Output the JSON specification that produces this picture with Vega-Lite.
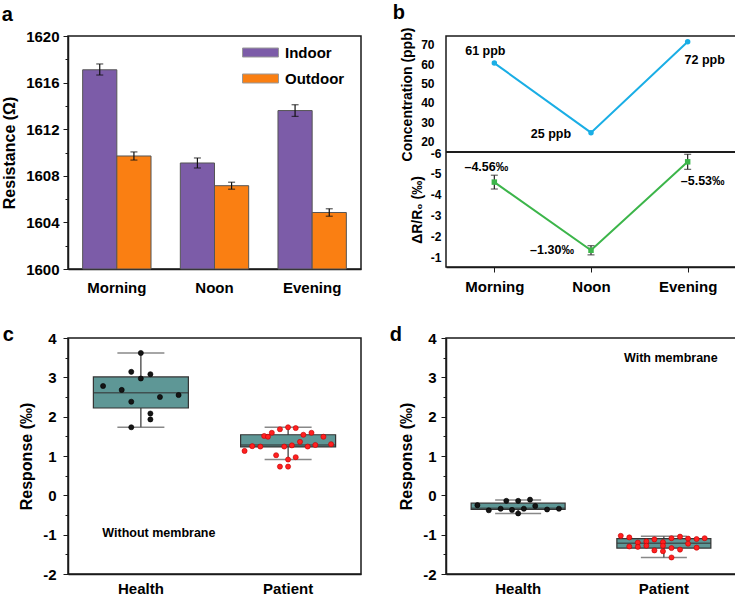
{
  "$schema": "https://vega.github.io/schema/vega-lite/v6.json",
  "background": "white",
  "padding": {"left": 0, "top": 2, "right": 0, "bottom": 0},
  "columns": 2,
  "align": "each",
  "spacing": {"row": 28, "column": 26},
  "config": {
    "font": "Liberation Sans",
    "view": {"stroke": "#1a1a1a", "strokeWidth": 1.5},
    "axis": {
      "labelFont": "Liberation Sans", "labelFontWeight": "bold", "labelFontSize": 15, "labelColor": "#000",
      "titleFont": "Liberation Sans", "titleFontWeight": "bold", "titleFontSize": 16, "titleColor": "#000",
      "domainColor": "#1a1a1a", "domainWidth": 1.5, "tickColor": "#1a1a1a", "grid": false, "labelOverlap": false
    },
    "title": {"font": "Liberation Sans", "fontSize": 20, "fontWeight": "bold", "anchor": "start", "frame": "bounds", "color": "#000"},
    "text": {"font": "Liberation Sans", "fontWeight": "bold", "fontSize": 12.5, "color": "#000"}
  },
  "concat": [
    {
      "title": {"text": "a", "dx": 0, "offset": 4},
      "width": 293, "height": 233,
      "data": {"values": [
        {"time": "Morning", "loc": "Indoor", "value": 1617.1, "lo": 1616.65, "hi": 1617.6},
        {"time": "Morning", "loc": "Outdoor", "value": 1609.7, "lo": 1609.35, "hi": 1610.05},
        {"time": "Noon", "loc": "Indoor", "value": 1609.1, "lo": 1608.67, "hi": 1609.53},
        {"time": "Noon", "loc": "Outdoor", "value": 1607.15, "lo": 1606.85, "hi": 1607.45},
        {"time": "Evening", "loc": "Indoor", "value": 1613.6, "lo": 1613.1, "hi": 1614.1},
        {"time": "Evening", "loc": "Outdoor", "value": 1604.85, "lo": 1604.53, "hi": 1605.17}
      ]},
      "resolve": {"axis": {"y": "independent"}},
      "layer": [
        {
          "mark": {"type": "bar", "stroke": "#555", "strokeWidth": 1},
          "encoding": {
            "x": {"field": "time", "type": "nominal", "sort": ["Morning", "Noon", "Evening"], "scale": {"paddingInner": 0.3, "paddingOuter": 0.15}, "axis": {"title": null, "labelAngle": 0, "ticks": false, "tickSize": 0, "labelPadding": 11, "labelFontSize": 15}},
            "xOffset": {"field": "loc", "type": "nominal", "sort": ["Indoor", "Outdoor"]},
            "y": {"field": "value", "type": "quantitative", "title": "Resistance (Ω)", "scale": {"domain": [1600, 1620], "zero": false, "nice": false}, "axis": {"orient": "left", "values": [1600, 1604, 1608, 1612, 1616, 1620], "format": "d", "tickSize": 5, "labelPadding": 4, "titlePadding": 8, "labelOverlap": false}},
            "y2": {"datum": 1600},
            "color": {"field": "loc", "type": "nominal", "scale": {"domain": ["Indoor", "Outdoor"], "range": ["#7C5CA8", "#FA7F12"]},
              "legend": {"orient": "none", "legendX": 182, "legendY": 6, "title": null, "symbolType": "M-1.8,-0.45H1.8V0.45H-1.8Z", "symbolSize": 400, "symbolStrokeColor": "#999", "symbolStrokeWidth": 1, "labelFont": "Liberation Sans", "labelFontWeight": "bold", "labelFontSize": 15, "labelColor": "#000", "labelOffset": 14, "rowPadding": 7}}
          }
        },
        {
          "mark": {"type": "rule", "color": "#111", "strokeWidth": 1.2},
          "encoding": {
            "x": {"field": "time", "type": "nominal", "sort": ["Morning", "Noon", "Evening"]},
            "xOffset": {"field": "loc", "type": "nominal", "sort": ["Indoor", "Outdoor"]},
            "y": {"field": "lo", "type": "quantitative", "axis": null},
            "y2": {"field": "hi"}
          }
        },
        {
          "mark": {"type": "tick", "color": "#111", "size": 7, "thickness": 1.2},
          "encoding": {
            "x": {"field": "time", "type": "nominal", "sort": ["Morning", "Noon", "Evening"]},
            "xOffset": {"field": "loc", "type": "nominal", "sort": ["Indoor", "Outdoor"]},
            "y": {"field": "lo", "type": "quantitative", "axis": null}
          }
        },
        {
          "mark": {"type": "tick", "color": "#111", "size": 7, "thickness": 1.2},
          "encoding": {
            "x": {"field": "time", "type": "nominal", "sort": ["Morning", "Noon", "Evening"]},
            "xOffset": {"field": "loc", "type": "nominal", "sort": ["Indoor", "Outdoor"]},
            "y": {"field": "hi", "type": "quantitative", "axis": {"orient": "left", "values": [1602, 1606, 1610, 1614, 1618], "labels": false, "domain": false, "tickSize": 3, "title": null, "grid": false}}
          }
        }
      ]
    },
    {
      "title": {"text": "b", "dx": -8, "offset": 4},
      "width": 290, "height": 231,
      "data": {"values": [
        {"time": "Morning", "conc": 61, "clabel": "61 ppb", "dr": -4.56, "drlo": -4.89, "drhi": -4.23, "dlabel": "–4.56‰"},
        {"time": "Noon", "conc": 25, "clabel": "25 ppb", "dr": -1.30, "drlo": -1.52, "drhi": -1.08, "dlabel": "–1.30‰"},
        {"time": "Evening", "conc": 72, "clabel": "72 ppb", "dr": -5.53, "drlo": -5.89, "drhi": -5.17, "dlabel": "–5.53‰"}
      ]},
      "resolve": {"scale": {"y": "independent"}, "axis": {"y": "independent"}},
      "layer": [
        {
          "encoding": {
            "y": {"field": "conc", "type": "quantitative", "title": "Concentration (ppb)", "scale": {"domain": [15, 75], "range": [116, 0], "nice": false, "zero": false},
              "axis": {"orient": "left", "values": [20, 30, 40, 50, 60, 70], "ticks": false, "domain": false, "labelPadding": 12, "labelFontSize": 12, "labelOffset": -1, "titleFontSize": 14, "titlePadding": 6, "labelOverlap": false}}
          },
          "layer": [
            {
              "mark": {"type": "line", "color": "#1AAEE5", "strokeWidth": 2},
              "encoding": {"x": {"field": "time", "type": "ordinal", "sort": ["Morning", "Noon", "Evening"], "scale": {"type": "point", "padding": 0.5}, "axis": {"title": null, "labelAngle": 0, "tickSize": 5, "labelPadding": 7, "labelFontSize": 15}}}
            },
            {
              "mark": {"type": "circle", "color": "#1AAEE5", "size": 30, "opacity": 1},
              "encoding": {"x": {"field": "time", "type": "ordinal", "sort": ["Morning", "Noon", "Evening"]}}
            },
            {
              "transform": [{"filter": "datum.time === 'Morning'"}],
              "mark": {"type": "text", "dx": -9, "dy": -12},
              "encoding": {"x": {"field": "time", "type": "ordinal", "sort": ["Morning", "Noon", "Evening"]}, "text": {"field": "clabel"}}
            },
            {
              "transform": [{"filter": "datum.time === 'Noon'"}],
              "mark": {"type": "text", "dx": -40, "dy": 1},
              "encoding": {"x": {"field": "time", "type": "ordinal", "sort": ["Morning", "Noon", "Evening"]}, "text": {"field": "clabel"}}
            },
            {
              "transform": [{"filter": "datum.time === 'Evening'"}],
              "mark": {"type": "text", "dx": 17, "dy": 18},
              "encoding": {"x": {"field": "time", "type": "ordinal", "sort": ["Morning", "Noon", "Evening"]}, "text": {"field": "clabel"}}
            }
          ]
        },
        {
          "encoding": {
            "y": {"field": "dr", "type": "quantitative", "title": "ΔR/R₀ (‰)", "scale": {"domain": [-6, -0.5], "range": [116, 231], "nice": false, "zero": false},
              "axis": {"orient": "left", "values": [-6, -5, -4, -3, -2, -1], "labelExpr": "replace(datum.label,'\u2212','-')", "ticks": false, "domain": false, "labelPadding": 5, "labelFontSize": 12, "labelOffset": 1, "titleFontSize": 14, "titlePadding": 6, "labelOverlap": false}}
          },
          "layer": [
            {
              "mark": {"type": "rule", "color": "#1a1a1a", "strokeWidth": 1.5},
              "encoding": {"y": {"datum": -6}}
            },
            {
              "mark": {"type": "line", "color": "#3CB54A", "strokeWidth": 2},
              "encoding": {"x": {"field": "time", "type": "ordinal", "sort": ["Morning", "Noon", "Evening"]}}
            },
            {
              "mark": {"type": "rule", "color": "#222", "strokeWidth": 1.2},
              "encoding": {"x": {"field": "time", "type": "ordinal", "sort": ["Morning", "Noon", "Evening"]}, "y": {"field": "drlo", "type": "quantitative", "title": "ΔR/R₀ (‰)"}, "y2": {"field": "drhi"}}
            },
            {
              "mark": {"type": "tick", "color": "#222", "size": 7, "thickness": 1.2},
              "encoding": {"x": {"field": "time", "type": "ordinal", "sort": ["Morning", "Noon", "Evening"]}, "y": {"field": "drlo", "type": "quantitative", "title": "ΔR/R₀ (‰)"}}
            },
            {
              "mark": {"type": "tick", "color": "#222", "size": 7, "thickness": 1.2},
              "encoding": {"x": {"field": "time", "type": "ordinal", "sort": ["Morning", "Noon", "Evening"]}, "y": {"field": "drhi", "type": "quantitative", "title": "ΔR/R₀ (‰)"}}
            },
            {
              "mark": {"type": "square", "color": "#3CB54A", "size": 30, "opacity": 1},
              "encoding": {"x": {"field": "time", "type": "ordinal", "sort": ["Morning", "Noon", "Evening"]}}
            },
            {
              "transform": [{"filter": "datum.time === 'Morning'"}],
              "mark": {"type": "text", "dx": -8, "dy": -15},
              "encoding": {"x": {"field": "time", "type": "ordinal", "sort": ["Morning", "Noon", "Evening"]}, "text": {"field": "dlabel"}}
            },
            {
              "transform": [{"filter": "datum.time === 'Noon'"}],
              "mark": {"type": "text", "dx": -39, "dy": 0},
              "encoding": {"x": {"field": "time", "type": "ordinal", "sort": ["Morning", "Noon", "Evening"]}, "text": {"field": "dlabel"}}
            },
            {
              "transform": [{"filter": "datum.time === 'Evening'"}],
              "mark": {"type": "text", "dx": 15, "dy": 19},
              "encoding": {"x": {"field": "time", "type": "ordinal", "sort": ["Morning", "Noon", "Evening"]}, "text": {"field": "dlabel"}}
            }
          ]
        }
      ]
    },
    {
      "title": {"text": "c", "dx": -16, "dy": 18},
      "width": 293, "height": 236,
      "resolve": {"axis": {"y": "independent"}},
      "layer": [
        {
          "data": {"values": [
            {"group": "Health", "q1": 2.22, "q3": 3.01, "median": 2.61, "lo": 1.73, "hi": 3.62},
            {"group": "Patient", "q1": 1.23, "q3": 1.54, "median": 1.28, "lo": 0.91, "hi": 1.73}
          ]},
          "layer": [
            {
              "mark": {"type": "rule", "color": "#333", "strokeWidth": 1.2},
              "encoding": {
                "x": {"field": "group", "type": "nominal", "sort": ["Health", "Patient"], "scale": {"type": "band", "paddingInner": 0.35, "paddingOuter": 0.17}, "axis": {"title": null, "labelAngle": 0, "ticks": false, "tickSize": 0, "labelPadding": 7, "labelFontSize": 15}},
                "y": {"field": "lo", "type": "quantitative", "title": "Response (‰)", "scale": {"domain": [-2, 4], "nice": false}, "axis": {"orient": "left", "tickCount": 6, "labelExpr": "replace(datum.label,'\u2212','-')", "tickSize": 5, "labelPadding": 7, "titlePadding": 8, "labelOverlap": false}},
                "y2": {"field": "hi"}
              }
            },
            {
              "mark": {"type": "bar", "fill": "#5E9796", "stroke": "#333", "strokeWidth": 1.2, "width": 95},
              "encoding": {
                "x": {"field": "group", "type": "nominal", "sort": ["Health", "Patient"]},
                "y": {"field": "q1", "type": "quantitative", "title": "Response (‰)"},
                "y2": {"field": "q3"}
              }
            },
            {
              "mark": {"type": "tick", "color": "#333", "size": 95, "thickness": 1.5},
              "encoding": {"x": {"field": "group", "type": "nominal", "sort": ["Health", "Patient"]}, "y": {"field": "median", "type": "quantitative", "title": "Response (‰)"}}
            },
            {
              "mark": {"type": "tick", "color": "#555", "size": 47, "thickness": 1.5},
              "encoding": {"x": {"field": "group", "type": "nominal", "sort": ["Health", "Patient"]}, "y": {"field": "lo", "type": "quantitative", "title": "Response (‰)"}}
            },
            {
              "mark": {"type": "tick", "color": "#555", "size": 47, "thickness": 1.5},
              "encoding": {"x": {"field": "group", "type": "nominal", "sort": ["Health", "Patient"]}, "y": {"field": "hi", "type": "quantitative", "title": "Response (‰)"}}
            }
          ]
        },
        {
          "data": {"values": [
            {"group": "Health", "value": 3.62, "jitter": 0},
            {"group": "Health", "value": 3.14, "jitter": -0.2},
            {"group": "Health", "value": 3.08, "jitter": 0.2},
            {"group": "Health", "value": 2.97, "jitter": 0},
            {"group": "Health", "value": 2.78, "jitter": -0.79},
            {"group": "Health", "value": 2.68, "jitter": -0.4},
            {"group": "Health", "value": 2.38, "jitter": -0.2},
            {"group": "Health", "value": 2.50, "jitter": 0.4},
            {"group": "Health", "value": 2.55, "jitter": 0.79},
            {"group": "Health", "value": 2.08, "jitter": 0.2},
            {"group": "Health", "value": 1.93, "jitter": 0.2},
            {"group": "Health", "value": 1.73, "jitter": -0.2},
            {"group": "Patient", "value": 1.13, "jitter": -0.91},
            {"group": "Patient", "value": 1.25, "jitter": -0.75},
            {"group": "Patient", "value": 1.24, "jitter": -0.58},
            {"group": "Patient", "value": 1.51, "jitter": -0.5},
            {"group": "Patient", "value": 1.49, "jitter": -0.42},
            {"group": "Patient", "value": 1.59, "jitter": -0.34},
            {"group": "Patient", "value": 1.02, "jitter": -0.25},
            {"group": "Patient", "value": 1.68, "jitter": -0.17},
            {"group": "Patient", "value": 0.73, "jitter": -0.17},
            {"group": "Patient", "value": 1.24, "jitter": -0.08},
            {"group": "Patient", "value": 1.73, "jitter": 0},
            {"group": "Patient", "value": 0.91, "jitter": 0},
            {"group": "Patient", "value": 0.73, "jitter": 0},
            {"group": "Patient", "value": 1.27, "jitter": 0.08},
            {"group": "Patient", "value": 1.71, "jitter": 0.16},
            {"group": "Patient", "value": 0.97, "jitter": 0.16},
            {"group": "Patient", "value": 1.36, "jitter": 0.25},
            {"group": "Patient", "value": 1.54, "jitter": 0.32},
            {"group": "Patient", "value": 1.24, "jitter": 0.41},
            {"group": "Patient", "value": 1.59, "jitter": 0.49},
            {"group": "Patient", "value": 1.28, "jitter": 0.57},
            {"group": "Patient", "value": 1.49, "jitter": 0.74},
            {"group": "Patient", "value": 1.30, "jitter": 0.9}
          ]},
          "mark": {"type": "circle", "size": 26, "opacity": 1, "strokeWidth": 0.6},
          "encoding": {
            "x": {"field": "group", "type": "nominal", "sort": ["Health", "Patient"]},
            "xOffset": {"field": "jitter", "type": "quantitative", "scale": {"domain": [-1, 1], "range": [0, 95.6]}},
            "y": {"field": "value", "type": "quantitative", "axis": {"orient": "left", "values": [-1.5, -0.5, 0.5, 1.5, 2.5, 3.5], "labels": false, "domain": false, "tickSize": 3, "title": null, "grid": false}},
            "color": {"condition": {"test": "datum.group === 'Health'", "value": "#151515"}, "value": "#FF2020"},
            "stroke": {"condition": {"test": "datum.group === 'Health'", "value": "#000000"}, "value": "#C00000"}
          }
        },
        {
          "data": {"values": [{"note": "Without membrane"}]},
          "mark": {"type": "text", "dx": 18, "baseline": "middle", "fontSize": 12.5},
          "encoding": {"x": {"datum": "Health"}, "y": {"datum": -0.97, "axis": null}, "text": {"field": "note"}}
        }
      ]
    },
    {
      "title": {"text": "d", "dx": -9, "dy": 18},
      "width": 290, "height": 236,
      "resolve": {"axis": {"y": "independent"}},
      "layer": [
        {
          "data": {"values": [
            {"group": "Health", "q1": -0.36, "q3": -0.2, "median": -0.33, "lo": -0.46, "hi": -0.12},
            {"group": "Patient", "q1": -1.34, "q3": -1.1, "median": -1.22, "lo": -1.58, "hi": -1.04}
          ]},
          "layer": [
            {
              "mark": {"type": "rule", "color": "#333", "strokeWidth": 1.2},
              "encoding": {
                "x": {"field": "group", "type": "nominal", "sort": ["Health", "Patient"], "scale": {"type": "band", "paddingInner": 0.35, "paddingOuter": 0.17}, "axis": {"title": null, "labelAngle": 0, "ticks": false, "tickSize": 0, "labelPadding": 7, "labelFontSize": 15}},
                "y": {"field": "lo", "type": "quantitative", "title": "Response (‰)", "scale": {"domain": [-2, 4], "nice": false}, "axis": {"orient": "left", "tickCount": 6, "labelExpr": "replace(datum.label,'\u2212','-')", "tickSize": 5, "labelPadding": 5, "titlePadding": 8, "labelOverlap": false}},
                "y2": {"field": "hi"}
              }
            },
            {
              "mark": {"type": "bar", "fill": "#5E9796", "stroke": "#333", "strokeWidth": 1.2, "width": 94},
              "encoding": {
                "x": {"field": "group", "type": "nominal", "sort": ["Health", "Patient"]},
                "y": {"field": "q1", "type": "quantitative", "title": "Response (‰)"},
                "y2": {"field": "q3"}
              }
            },
            {
              "mark": {"type": "tick", "color": "#333", "size": 94, "thickness": 1.5},
              "encoding": {"x": {"field": "group", "type": "nominal", "sort": ["Health", "Patient"]}, "y": {"field": "median", "type": "quantitative", "title": "Response (‰)"}}
            },
            {
              "mark": {"type": "tick", "color": "#555", "size": 46, "thickness": 1.5},
              "encoding": {"x": {"field": "group", "type": "nominal", "sort": ["Health", "Patient"]}, "y": {"field": "lo", "type": "quantitative", "title": "Response (‰)"}}
            },
            {
              "mark": {"type": "tick", "color": "#555", "size": 46, "thickness": 1.5},
              "encoding": {"x": {"field": "group", "type": "nominal", "sort": ["Health", "Patient"]}, "y": {"field": "hi", "type": "quantitative", "title": "Response (‰)"}}
            }
          ]
        },
        {
          "data": {"values": [
            {"group": "Health", "value": -0.25, "jitter": -0.86},
            {"group": "Health", "value": -0.38, "jitter": -0.62},
            {"group": "Health", "value": -0.34, "jitter": -0.37},
            {"group": "Health", "value": -0.14, "jitter": -0.25},
            {"group": "Health", "value": -0.37, "jitter": -0.13},
            {"group": "Health", "value": -0.14, "jitter": 0},
            {"group": "Health", "value": -0.46, "jitter": 0},
            {"group": "Health", "value": -0.34, "jitter": 0.12},
            {"group": "Health", "value": -0.11, "jitter": 0.25},
            {"group": "Health", "value": -0.27, "jitter": 0.36},
            {"group": "Health", "value": -0.36, "jitter": 0.61},
            {"group": "Health", "value": -0.34, "jitter": 0.86},
            {"group": "Patient", "value": -1.03, "jitter": -0.91},
            {"group": "Patient", "value": -1.07, "jitter": -0.73},
            {"group": "Patient", "value": -1.30, "jitter": -0.73},
            {"group": "Patient", "value": -1.20, "jitter": -0.55},
            {"group": "Patient", "value": -1.31, "jitter": -0.55},
            {"group": "Patient", "value": -1.17, "jitter": -0.37},
            {"group": "Patient", "value": -1.28, "jitter": -0.37},
            {"group": "Patient", "value": -1.12, "jitter": -0.2},
            {"group": "Patient", "value": -1.40, "jitter": -0.2},
            {"group": "Patient", "value": -1.19, "jitter": -0.02},
            {"group": "Patient", "value": -1.28, "jitter": -0.02},
            {"group": "Patient", "value": -1.42, "jitter": -0.02},
            {"group": "Patient", "value": -1.09, "jitter": 0.16},
            {"group": "Patient", "value": -1.34, "jitter": 0.16},
            {"group": "Patient", "value": -1.58, "jitter": 0.16},
            {"group": "Patient", "value": -1.05, "jitter": 0.34},
            {"group": "Patient", "value": -1.38, "jitter": 0.34},
            {"group": "Patient", "value": -1.10, "jitter": 0.51},
            {"group": "Patient", "value": -1.23, "jitter": 0.51},
            {"group": "Patient", "value": -1.11, "jitter": 0.69},
            {"group": "Patient", "value": -1.33, "jitter": 0.69},
            {"group": "Patient", "value": -1.09, "jitter": 0.86}
          ]},
          "mark": {"type": "circle", "size": 26, "opacity": 1, "strokeWidth": 0.6},
          "encoding": {
            "x": {"field": "group", "type": "nominal", "sort": ["Health", "Patient"]},
            "xOffset": {"field": "jitter", "type": "quantitative", "scale": {"domain": [-1, 1], "range": [0, 94.8]}},
            "y": {"field": "value", "type": "quantitative", "axis": {"orient": "left", "values": [-1.5, -0.5, 0.5, 1.5, 2.5, 3.5], "labels": false, "domain": false, "tickSize": 3, "title": null, "grid": false}},
            "color": {"condition": {"test": "datum.group === 'Health'", "value": "#151515"}, "value": "#FF2020"},
            "stroke": {"condition": {"test": "datum.group === 'Health'", "value": "#000000"}, "value": "#C00000"}
          }
        },
        {
          "data": {"values": [{"note": "With membrane"}]},
          "mark": {"type": "text", "dx": 7, "baseline": "middle", "fontSize": 12.5},
          "encoding": {"x": {"datum": "Patient"}, "y": {"datum": 3.5, "axis": null}, "text": {"field": "note"}}
        }
      ]
    }
  ]
}
